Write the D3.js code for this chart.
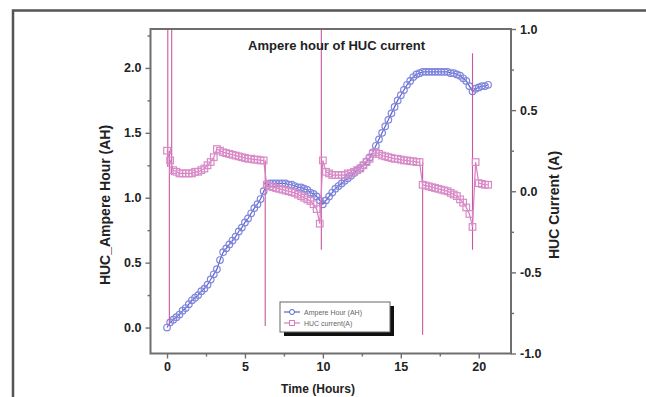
<!DOCTYPE html>
<html>
<head>
<meta charset="utf-8">
<script src="https://cdn.jsdelivr.net/npm/d3@7"></script>
<style>
  body { margin: 0; background: #fff; }
  svg { display: block; font-family: "Liberation Sans", Arial, sans-serif; }
</style>
</head>
<body>
<script>
// Sample times (hours)
var hours = [
  0, 0.2, 0.4, 0.6, 0.8, 1, 1.2, 1.4, 1.6, 1.8,
  2, 2.2, 2.4, 2.6, 2.8, 3, 3.2, 3.4, 3.6, 3.8,
  4, 4.2, 4.4, 4.6, 4.8, 5, 5.2, 5.4, 5.6, 5.8,
  6, 6.2, 6.4, 6.6, 6.8, 7, 7.2, 7.4, 7.6, 7.8,
  8, 8.2, 8.4, 8.6, 8.8, 9, 9.2, 9.4, 9.6, 9.8,
  10, 10.2, 10.4, 10.6, 10.8, 11, 11.2, 11.4, 11.6, 11.8,
  12, 12.2, 12.4, 12.6, 12.8, 13, 13.2, 13.4, 13.6, 13.8,
  14, 14.2, 14.4, 14.6, 14.8, 15, 15.2, 15.4, 15.6, 15.8,
  16, 16.2, 16.4, 16.6, 16.8, 17, 17.2, 17.4, 17.6, 17.8,
  18, 18.2, 18.4, 18.6, 18.8, 19, 19.2, 19.4, 19.6, 19.8,
  20, 20.2, 20.4, 20.6
];

// Ampere hour (AH), left axis
var ampHour = [
  0.00, 0.04, 0.06, 0.08, 0.10, 0.13, 0.15, 0.18, 0.21, 0.23,
  0.25, 0.28, 0.30, 0.33, 0.37, 0.41, 0.45, 0.52, 0.58, 0.61,
  0.64, 0.67, 0.70, 0.74, 0.77, 0.81, 0.84, 0.88, 0.92, 0.95,
  0.99, 1.05, 1.09, 1.11, 1.11, 1.11, 1.11, 1.11, 1.11, 1.10,
  1.10, 1.09, 1.08, 1.08, 1.07, 1.06, 1.04, 1.03, 1.01, 0.98,
  0.95, 0.98, 1.01, 1.04, 1.07, 1.09, 1.11, 1.13, 1.15, 1.17,
  1.19, 1.21, 1.23, 1.25, 1.28, 1.31, 1.35, 1.40, 1.45, 1.50,
  1.55, 1.60, 1.65, 1.70, 1.75, 1.79, 1.83, 1.87, 1.90, 1.93,
  1.95, 1.96, 1.97, 1.97, 1.97, 1.97, 1.97, 1.97, 1.97, 1.97,
  1.97, 1.96, 1.96, 1.95, 1.94, 1.92, 1.90, 1.86, 1.82, 1.84,
  1.85, 1.86, 1.86, 1.87
];

// HUC current (A), right axis
var hucCurrent = [
  0.25, 0.19, 0.13, 0.12, 0.11, 0.11, 0.11, 0.11, 0.11, 0.12,
  0.12, 0.13, 0.14, 0.16, 0.18, 0.21, 0.26, 0.25, 0.24, 0.235,
  0.23, 0.225, 0.22, 0.215, 0.21, 0.205, 0.20, 0.20, 0.195, 0.195,
  0.19, 0.19, 0.04, 0.03, 0.025, 0.02, 0.015, 0.01, 0.005, 0.0,
  -0.005, -0.01, -0.02, -0.03, -0.04, -0.05, -0.06, -0.08, -0.11, -0.20,
  0.19, 0.12, 0.11, 0.10, 0.10, 0.10, 0.10, 0.10, 0.11, 0.11,
  0.12, 0.13, 0.14, 0.16, 0.18, 0.20, 0.23, 0.24, 0.23, 0.22,
  0.215, 0.21, 0.205, 0.20, 0.20, 0.195, 0.19, 0.19, 0.185, 0.185,
  0.18, 0.18, 0.04, 0.035, 0.03, 0.025, 0.02, 0.015, 0.01, 0.005,
  0.0, -0.01, -0.02, -0.03, -0.05, -0.07, -0.10, -0.14, -0.22, 0.18,
  0.05, 0.045, 0.04, 0.04
];

// Current transients at switching times
var spikeHours = [0.05, 0.15, 0.3, 6.3, 9.9, 16.4, 19.6];
var spikeLow   = [0.15, -0.83, 0.1, -0.83, -0.36, -0.885, -0.36];
var spikeHigh  = [1.1, 0.25, 1.1, 0.19, 1.05, 0.18, 0.85];

var xTicks = [0, 5, 10, 15, 20];
var leftTicks = [0, 0.5, 1, 1.5, 2];
var rightTicks = [-1, -0.5, 0, 0.5, 1];

var svgWidth = 646;
var svgHeight = 397;

var chartMargin = { top: 29, right: 135, bottom: 43.5, left: 150.5 };
var chartWidth = svgWidth - chartMargin.left - chartMargin.right;
var chartHeight = svgHeight - chartMargin.top - chartMargin.bottom;

var blue = "#5566cc";
var blueMark = "#8186dc";
var pink = "#d67fc2";
var pinkMark = "#d98bc8";
var spikeColor = "#c9579e";
var axisColor = "#6e6e6e";

var svg = d3.select("body")
  .append("svg")
  .attr("width", svgWidth)
  .attr("height", svgHeight);

// picture frame (left + top edges visible)
svg.append("path")
  .attr("d", "M13,397 L13,10.5 L646,10.5")
  .attr("fill", "none")
  .attr("stroke", "#555")
  .attr("stroke-width", 2.5);

var chartGroup = svg.append("g")
  .attr("transform", `translate(${chartMargin.left}, ${chartMargin.top})`);

chartGroup.append("clipPath")
  .attr("id", "plotclip")
  .append("rect")
  .attr("width", chartWidth)
  .attr("height", chartHeight);

var xScale = d3.scaleLinear().domain([-1.06, 22.07]).range([0, chartWidth]);
var yLeft = d3.scaleLinear().domain([-0.2, 2.3]).range([chartHeight, 0]);
var yRight = d3.scaleLinear().domain([-1, 1]).range([chartHeight, 0]);

function styleAxis(g) {
  g.select(".domain").remove();
  g.selectAll("line").attr("stroke", axisColor).attr("stroke-width", 1.4);
  g.selectAll("text")
    .attr("fill", "#222")
    .style("font-size", "12.5px")
    .style("font-weight", "bold");
}

// plain hyphen for negatives, like the original figure
var oneDecimal = d => d.toFixed(1);

// minor ticks
var minorX = [2.5, 7.5, 12.5, 17.5];
var minorL = [0.25, 0.75, 1.25, 1.75, 2.25];
var minorR = [-0.75, -0.25, 0.25, 0.75];

chartGroup.append("g")
  .attr("transform", `translate(0, ${chartHeight})`)
  .call(d3.axisBottom(xScale).tickValues(minorX).tickSize(3).tickFormat(""))
  .call(styleAxis);
chartGroup.append("g")
  .call(d3.axisLeft(yLeft).tickValues(minorL).tickSize(3).tickFormat(""))
  .call(styleAxis);
chartGroup.append("g")
  .attr("transform", `translate(${chartWidth}, 0)`)
  .call(d3.axisRight(yRight).tickValues(minorR).tickSize(3).tickFormat(""))
  .call(styleAxis);

// major ticks
chartGroup.append("g")
  .attr("transform", `translate(0, ${chartHeight})`)
  .call(d3.axisBottom(xScale).tickValues(xTicks).tickSize(5).tickPadding(4).tickFormat(d => String(d)))
  .call(styleAxis);
chartGroup.append("g")
  .call(d3.axisLeft(yLeft).tickValues(leftTicks).tickSize(5).tickPadding(4).tickFormat(oneDecimal))
  .call(styleAxis);
chartGroup.append("g")
  .attr("transform", `translate(${chartWidth}, 0)`)
  .call(d3.axisRight(yRight).tickValues(rightTicks).tickSize(5).tickPadding(4).tickFormat(oneDecimal))
  .call(styleAxis);

var plot = chartGroup.append("g").attr("clip-path", "url(#plotclip)");

var ampData = hours.map((h, i) => ({ t: h, v: ampHour[i] }));
var curData = hours.map((h, i) => ({ t: h, v: hucCurrent[i] }));
var spikeData = spikeHours.map((h, i) => ({ t: h, lo: spikeLow[i], hi: spikeHigh[i] }));

// Ampere hour series
plot.append("path")
  .datum(ampData)
  .attr("fill", "none")
  .attr("stroke", blue)
  .attr("stroke-width", 1.2)
  .attr("d", d3.line().x(d => xScale(d.t)).y(d => yLeft(d.v)));

plot.selectAll(".amp")
  .data(ampData)
  .enter()
  .append("circle")
  .attr("class", "amp")
  .attr("cx", d => xScale(d.t))
  .attr("cy", d => yLeft(d.v))
  .attr("r", 3.3)
  .attr("fill", "none")
  .attr("stroke", blueMark)
  .attr("stroke-width", 1.2);

// current transients
plot.selectAll(".spike")
  .data(spikeData)
  .enter()
  .append("line")
  .attr("class", "spike")
  .attr("x1", d => xScale(d.t))
  .attr("x2", d => xScale(d.t))
  .attr("y1", d => yRight(d.lo))
  .attr("y2", d => yRight(d.hi))
  .attr("stroke", spikeColor)
  .attr("stroke-width", 1.1);

// HUC current series
plot.append("path")
  .datum(curData)
  .attr("fill", "none")
  .attr("stroke", pink)
  .attr("stroke-width", 1.2)
  .attr("d", d3.line().x(d => xScale(d.t)).y(d => yRight(d.v)));

plot.selectAll(".cur")
  .data(curData)
  .enter()
  .append("rect")
  .attr("class", "cur")
  .attr("x", d => xScale(d.t) - 3.3)
  .attr("y", d => yRight(d.v) - 3.3)
  .attr("width", 6.6)
  .attr("height", 6.6)
  .attr("fill", "none")
  .attr("stroke", pinkMark)
  .attr("stroke-width", 1.2);

// frame
chartGroup.append("rect")
  .attr("width", chartWidth)
  .attr("height", chartHeight)
  .attr("fill", "none")
  .attr("stroke", axisColor)
  .attr("stroke-width", 2);

// title and axis labels
chartGroup.append("text")
  .attr("x", 186)
  .attr("y", 21)
  .attr("text-anchor", "middle")
  .attr("fill", "#222")
  .style("font-size", "13px")
  .style("font-weight", "bold")
  .text("Ampere hour of HUC current");

svg.append("text")
  .attr("transform", "translate(110, 205) rotate(-90)")
  .attr("text-anchor", "middle")
  .attr("fill", "#222")
  .style("font-size", "14px")
  .style("font-weight", "bold")
  .text("HUC_Ampere Hour (AH)");

svg.append("text")
  .attr("transform", "translate(559, 205) rotate(-90)")
  .attr("text-anchor", "middle")
  .attr("fill", "#222")
  .style("font-size", "14px")
  .style("font-weight", "bold")
  .text("HUC Current (A)");

svg.append("text")
  .attr("x", 318)
  .attr("y", 393)
  .attr("text-anchor", "middle")
  .attr("fill", "#222")
  .style("font-size", "12px")
  .style("font-weight", "bold")
  .text("Time (Hours)");

// legend
var legend = svg.append("g").attr("transform", "translate(280, 302)");
legend.append("rect")
  .attr("x", 4).attr("y", 4).attr("width", 110).attr("height", 30)
  .attr("fill", "#111");
legend.append("rect")
  .attr("width", 110).attr("height", 30)
  .attr("fill", "#fff")
  .attr("stroke", "#666")
  .attr("stroke-width", 1);

var legendItems = [
  { label: "Ampere Hour (AH)", color: blue, mark: "circle" },
  { label: "HUC current(A)", color: pink, mark: "square" }
];

legendItems.forEach(function(item, i) {
  var y = 10 + i * 11;
  legend.append("line")
    .attr("x1", 4).attr("x2", 20).attr("y1", y).attr("y2", y)
    .attr("stroke", item.color).attr("stroke-width", 1.2);
  if (item.mark === "circle") {
    legend.append("circle").attr("cx", 12).attr("cy", y).attr("r", 2.5)
      .attr("fill", "#fff").attr("stroke", item.color);
  } else {
    legend.append("rect").attr("x", 9.5).attr("y", y - 2.5).attr("width", 5).attr("height", 5)
      .attr("fill", "#fff").attr("stroke", item.color);
  }
  legend.append("text")
    .attr("x", 24).attr("y", y + 2.5)
    .attr("fill", "#666")
    .style("font-size", "7px")
    .text(item.label);
});
</script>
</body>
</html>
